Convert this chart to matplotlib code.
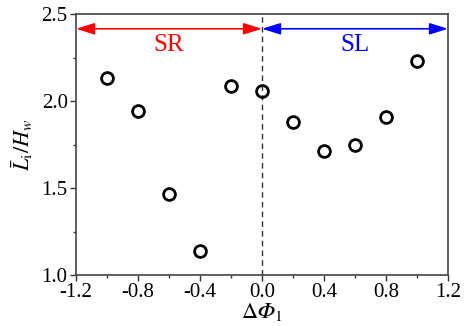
import matplotlib
matplotlib.use("Agg")
import matplotlib.pyplot as plt
from matplotlib.ticker import MultipleLocator

plt.rcParams['font.family'] = ['Liberation Serif']
plt.rcParams['mathtext.fontset'] = 'stix'

dphi = [-1.0, -0.8, -0.6, -0.4, -0.2, 0.0, 0.2, 0.4, 0.6, 0.8, 1.0]
ratio = [2.135, 1.94, 1.465, 1.14, 2.085, 2.06, 1.88, 1.71, 1.75, 1.91, 2.23]
xticks = [-1.2, -0.8, -0.4, 0.0, 0.4, 0.8, 1.2]
xticklabels = ['-1.2', '-0.8', '-0.4', '0.0', '0.4', '0.8', '1.2']
yticks = [1.0, 1.5, 2.0, 2.5]
yticklabels = ['1.0', '1.5', '2.0', '2.5']

fig = plt.figure(figsize=(4.65, 3.26), dpi=100)
ax = fig.add_axes([76/465, 1-275/326, (448-76)/465, (275-14)/326])

ax.plot(dphi, ratio, 'o', ms=8.5, mfc='none', mec='black', mew=2.0, zorder=5)
ax.axvline(0, color='#333333', ls=(0, (4, 3)), lw=1.0)

ax.annotate('', xy=(-1.2, 2.415), xytext=(0, 2.415),
            arrowprops=dict(arrowstyle='<|-|>,head_length=0.8,head_width=0.25', color='red', lw=1.2,
                            mutation_scale=14, shrinkA=0, shrinkB=0))
ax.annotate('', xy=(0, 2.415), xytext=(1.2, 2.415),
            arrowprops=dict(arrowstyle='<|-|>,head_length=0.8,head_width=0.25', color='blue', lw=1.2,
                            mutation_scale=14, shrinkA=0, shrinkB=0))
ax.text(-0.6, 2.32, 'SR', color='red', fontsize=18, ha='center', va='center')
ax.text(0.6, 2.32, 'SL', color='blue', fontsize=18, ha='center', va='center')

ax.set_xlim(-1.2, 1.2)
ax.set_ylim(1.0, 2.5)
ax.xaxis.set_minor_locator(MultipleLocator(0.2))
ax.yaxis.set_minor_locator(MultipleLocator(0.25))
ax.set_xticks(xticks)
ax.set_xticklabels(xticklabels)
ax.set_yticks(yticks)
ax.set_yticklabels(yticklabels)
ax.tick_params(which='both', direction='out', top=False, right=False, labelsize=15, color='#333333', pad=2)
ax.tick_params(which='major', length=4, width=1)
ax.tick_params(which='minor', length=2.5, width=1)
for s in ax.spines.values():
    s.set_color('#444444')
    s.set_linewidth(1.2)

ax.set_xlabel('$\\Delta\U0001D6F7_\\mathrm{1}$', fontsize=16, labelpad=-1)
ax.set_ylabel(r'$\bar{L}_\mathrm{i}/H_w$', fontsize=16, labelpad=5)

fig.savefig('out.png', dpi=100)
